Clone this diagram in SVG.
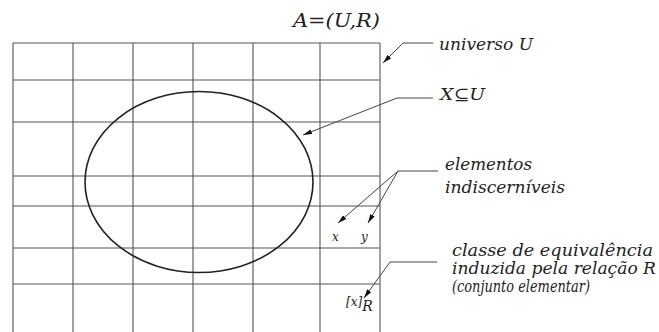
<svg xmlns="http://www.w3.org/2000/svg" width="659" height="332" viewBox="0 0 659 332">
<style>
.grid line{stroke:#555;stroke-width:1.1}
.set{fill:none;stroke:#222;stroke-width:1.6}
.lead{fill:none;stroke:#444;stroke-width:1}
.t{font-family:'DejaVu Serif','Liberation Serif',serif;font-style:italic;fill:#222}
.lbl{font-size:16px}
.sm{font-size:12px}
</style>
<defs>
<marker id="ah" markerWidth="10" markerHeight="6" refX="9" refY="3" orient="auto" markerUnits="userSpaceOnUse">
<path d="M0,0.5 L9,3 L0,5.5 Z" fill="#111"/>
</marker>
</defs>
<rect width="659" height="332" fill="#fff"/>
<g id="universe" class="grid">
<line x1="13" y1="43" x2="13" y2="332"/>
<line x1="73" y1="43" x2="73" y2="332"/>
<line x1="133" y1="43" x2="133" y2="332"/>
<line x1="193" y1="43" x2="193" y2="332"/>
<line x1="253" y1="43" x2="253" y2="332"/>
<line x1="320" y1="43" x2="320" y2="332"/>
<line x1="380" y1="43" x2="380" y2="332"/>
<line x1="13" y1="43" x2="380" y2="43"/>
<line x1="13" y1="80" x2="380" y2="80"/>
<line x1="13" y1="122" x2="380" y2="122"/>
<line x1="13" y1="176" x2="380" y2="176"/>
<line x1="13" y1="206" x2="380" y2="206"/>
<line x1="13" y1="248" x2="380" y2="248"/>
<line x1="13" y1="284" x2="380" y2="284"/>
</g>
<g id="subset-X">
<ellipse class="set" cx="199" cy="182" rx="114" ry="90.5"/>
</g>
<g id="title">
<text class="t" x="293" y="27" font-size="18" textLength="87" lengthAdjust="spacingAndGlyphs">A=(U,R)</text>
</g>
<g id="label-universo">
<text class="t lbl" x="439" y="50" textLength="94" lengthAdjust="spacingAndGlyphs">universo U</text>
</g>
<g id="label-X">
<text class="t lbl" x="440" y="100" textLength="45" lengthAdjust="spacingAndGlyphs">X⊆U</text>
</g>
<g id="label-elementos">
<text class="t lbl" x="445" y="170" textLength="87" lengthAdjust="spacingAndGlyphs">elementos</text>
<text class="t lbl" x="445" y="193" textLength="120" lengthAdjust="spacingAndGlyphs">indiscerníveis</text>
</g>
<g id="label-classe">
<text class="t lbl" x="452" y="256" textLength="201" lengthAdjust="spacingAndGlyphs">classe de equivalência</text>
<text class="t lbl" x="452" y="274" textLength="204" lengthAdjust="spacingAndGlyphs">induzida pela relação R</text>
<text class="t lbl" x="452" y="292" textLength="138" lengthAdjust="spacingAndGlyphs">(conjunto elementar)</text>
</g>
<g id="elem-x"><text class="t sm" x="332" y="241">x</text></g>
<g id="elem-y"><text class="t sm" x="361" y="241">y</text></g>
<g id="elem-class"><text class="t sm" x="346" y="306">[x]<tspan font-size="14" dy="5">R</tspan></text></g>
<g id="connectors">
<path class="lead" d="M433,43 H403 L383,63" marker-end="url(#ah)"/>
<path class="lead" d="M433,98 H397 L303,135" marker-end="url(#ah)"/>
<path class="lead" d="M438,171 H398 L338,223" marker-end="url(#ah)"/>
<path class="lead" d="M398,171 L368,223" marker-end="url(#ah)"/>
<path class="lead" d="M437,262 H390 L364,298" marker-end="url(#ah)"/>
</g>
</svg>
